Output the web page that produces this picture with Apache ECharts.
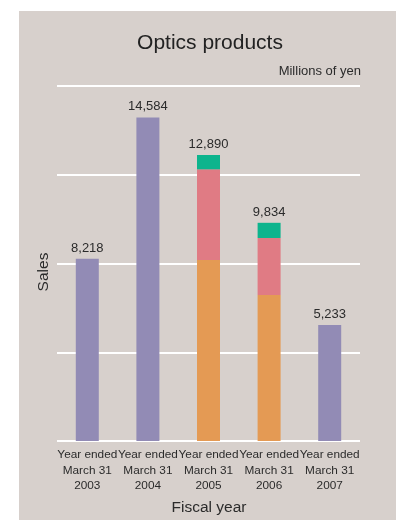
<!DOCTYPE html>
<html>
<head>
<meta charset="utf-8">
<script src="https://cdn.jsdelivr.net/npm/echarts@6/dist/echarts.min.js"></script>
<style>
  html, body { margin: 0; padding: 0; background: #ffffff; }
  #chart { width: 408px; height: 520px; }
</style>
</head>
<body>
<div id="chart"></div>
<script>
// Fiscal years (three-line category labels)
const categories = [
  'Year ended\nMarch 31\n2003',
  'Year ended\nMarch 31\n2004',
  'Year ended\nMarch 31\n2005',
  'Year ended\nMarch 31\n2006',
  'Year ended\nMarch 31\n2007'
];

// Sales, millions of yen
const singleSales = [8218, 14584, '-', '-', 5233];
const segmentA    = ['-', '-', 8158, 6580, '-'];
const segmentB    = ['-', '-', 4087, 2570, '-'];
const segmentC    = ['-', '-', 645, 684, '-'];
const totals      = [8218, 14584, 12890, 9834, 5233];

// Value axis ticks
const yTicks = [0, 4000, 8000, 12000, 16000];

const FONT = "'Liberation Sans', Arial, Helvetica, sans-serif";
const TEXT = '#2b2b2b';

const fmt = v => v.toLocaleString('en-US');

const totalLabel = {
  show: true,
  position: 'top',
  distance: 4,
  color: TEXT,
  fontFamily: FONT,
  fontSize: 13,
  formatter: p => fmt(totals[p.dataIndex])
};

const chart = echarts.init(document.getElementById('chart'));
chart.setOption({
  animation: false,
  backgroundColor: '#ffffff',
  graphic: [
    { type: 'rect', z: -10, silent: true,
      shape: { x: 19, y: 11, width: 377, height: 509 },
      style: { fill: '#d7d0cc' } },
    { type: 'text', silent: true, x: 210, y: 43,
      style: { text: 'Optics products', fill: '#222', font: '21px ' + FONT,
               align: 'center', verticalAlign: 'middle' } },
    { type: 'text', silent: true, x: 361, y: 71,
      style: { text: 'Millions of yen', fill: TEXT, font: '13px ' + FONT,
               align: 'right', verticalAlign: 'middle' } },
    { type: 'text', silent: true, x: 44, y: 272, rotation: Math.PI / 2,
      style: { text: 'Sales', fill: TEXT, font: '15.5px ' + FONT,
               align: 'center', verticalAlign: 'middle' } },
    { type: 'text', silent: true, x: 209, y: 508,
      style: { text: 'Fiscal year', fill: TEXT, font: '15.5px ' + FONT,
               align: 'center', verticalAlign: 'middle' } }
  ],
  grid: { left: 57, right: 48, top: 86, bottom: 79 },
  xAxis: {
    type: 'category',
    data: categories,
    axisLine: { show: false },
    axisTick: { show: false },
    axisLabel: {
      color: TEXT, fontFamily: FONT, fontSize: 11.8, lineHeight: 15.5,
      margin: 6, interval: 0
    }
  },
  yAxis: {
    type: 'value',
    min: yTicks[0],
    max: yTicks[yTicks.length - 1],
    interval: yTicks[1] - yTicks[0],
    axisLine: { show: false },
    axisTick: { show: false },
    axisLabel: { show: false },
    splitLine: { lineStyle: { color: '#ffffff', width: 2 } }
  },
  series: [
    { type: 'bar', stack: 'sales', data: singleSales, barWidth: 23,
      itemStyle: { color: '#928bb5' }, label: totalLabel },
    { type: 'bar', stack: 'sales', data: segmentA, barWidth: 23,
      itemStyle: { color: '#e49a54' } },
    { type: 'bar', stack: 'sales', data: segmentB, barWidth: 23,
      itemStyle: { color: '#e07b84' } },
    { type: 'bar', stack: 'sales', data: segmentC, barWidth: 23,
      itemStyle: { color: '#0db48d' }, label: totalLabel }
  ]
});
</script>
</body>
</html>
